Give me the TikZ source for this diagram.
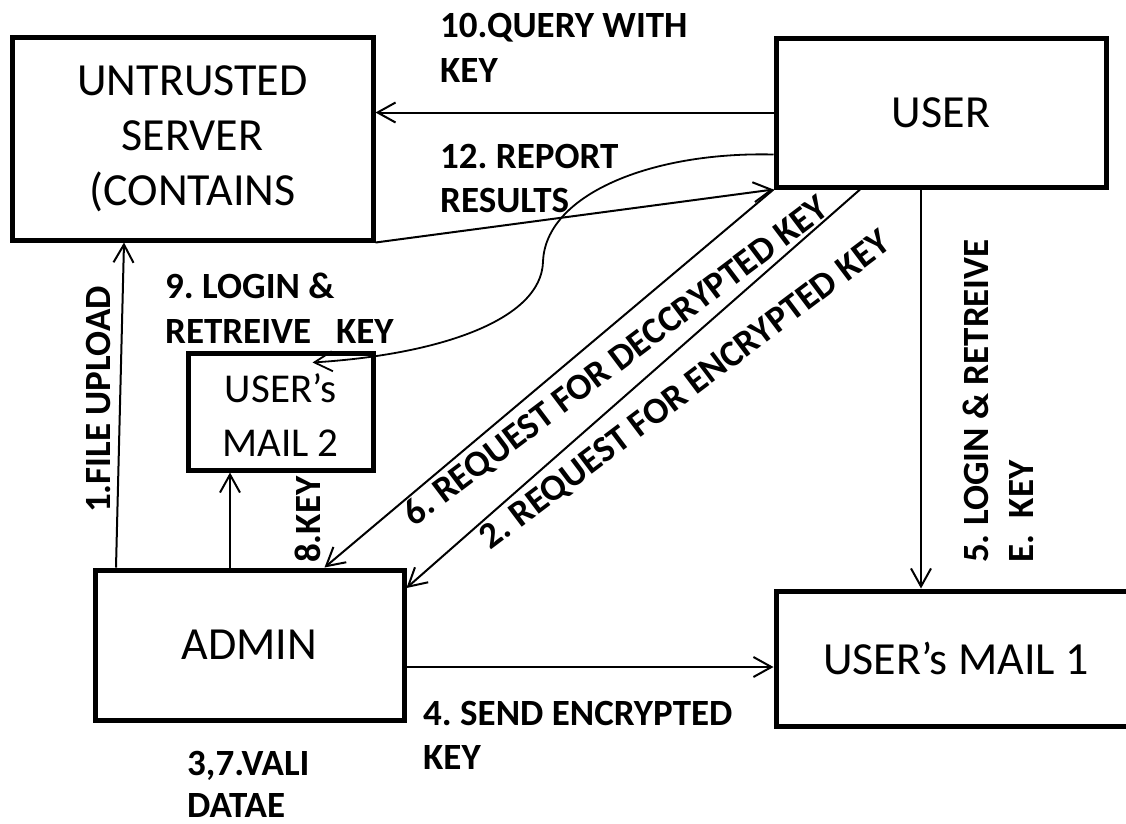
\documentclass[tikz,border=0pt]{standalone}
\usepackage{fontspec}
\setmainfont{Carlito}
\usetikzlibrary{arrows.meta,calc}
\frenchspacing
\begin{document}
\begin{tikzpicture}[x=1pt,y=-1pt,
  box/.style={draw, line width=5pt, inner sep=0pt, align=center,
    font=\fontsize{46}{55}\selectfont},
  flow/.style={line width=2pt, -{Straight Barb[length=18pt,width=20pt]}},
  lbl/.style={inner sep=0pt, anchor=base west,
    font=\bfseries\fontsize{37}{44}\selectfont},
]
\useasboundingbox (0,0) rectangle (1126,823);

% entities
\node[box, minimum width=361pt, minimum height=203pt] (server) at (192.5,138.5)
  {UNTRUSTED\\SERVER\\(CONTAINS};
\node[box, minimum width=330pt, minimum height=149pt] (user) at (941,112.5) {USER};
\node[box, minimum width=185pt, minimum height=117pt,
  font=\fontsize{41}{54}\selectfont] (mail2) at (280.5,411.5)
  {\rule{0pt}{36pt}USER’s\\MAIL 2};
\node[box, minimum width=309pt, minimum height=150pt] (admin) at (249.5,645) {ADMIN};
\node[box, minimum width=360pt, minimum height=135pt] (mail1) at (956,658.5) {USER’s MAIL 1};

% helper points on the boxes
\coordinate (u9) at ($(user.west)+(0,42)$);
\coordinate (c9) at (543,262);
\coordinate (m9) at ($(mail2.north)+(32,12)$);
\coordinate (a6) at ($(admin.north)+(75,0)$);
\coordinate (u2) at ($(user.south)+(-81,0)$);
\coordinate (a2) at ($(admin.east)+(0,-57)$);
\coordinate (u5) at ($(user.south)+(-20,0)$);
\coordinate (a1) at ($(admin.north west)+(23.5,0)$);
\coordinate (s1) at ($(server.south west)+(114.5,0)$);
\coordinate (a8) at ($(admin.north)+(-19.5,0)$);
\coordinate (a4) at ($(admin.east)+(0,22)$);

% flows
\draw[flow] (user.west) -- (user.west -| server.east);
\draw[flow] (server.south east) -- (user.south west);
\draw[flow, line width=1.8pt] (u9) .. controls +(-123,-3) and +(2,-67) .. (c9)
  .. controls +(-2,58) and +(127,-8) .. (m9);
\draw[flow] (user.south west) -- (a6);
\draw[flow] (u2) -- (a2);
\draw[flow] (u5) -- (u5 |- mail1.north);
\draw[flow] (a1) -- (s1);
\draw[flow] (a8) -- (a8 |- mail2.south);
\draw[flow] (a4) -- (a4 -| mail1.west);

% flow labels
\node[lbl] (q10a) at (440,37) {10.QUERY WITH};
\node[lbl] (q10b) at (440,82) {KEY};
\node[lbl] (r12a) at (440,168) {12. REPORT};
\node[lbl] (r12b) at (440,212) {RESULTS};
\node[lbl] (l9a) at (165,298) {9. LOGIN \&};
\node[lbl] (l9b) at (165,343) {RETREIVE\ \ \ KEY};
\node[lbl, rotate=90] (up1) at (110,513) {1.FILE UPLOAD};
\node[lbl, rotate=90] (k8) at (320,563) {8.KEY};
\node[lbl, rotate=90] (l5a) at (988,563) {5. LOGIN \& RETREIVE};
\node[lbl, rotate=90] (l5b) at (1033,563) {E.\ \ KEY};
\node[lbl] (s4a) at (423,725) {4. SEND ENCRYPTED};
\node[lbl] (s4b) at (423,769) {KEY};
\node[lbl] (v37a) at (187,775) {3,7.VALI};
\node[lbl] (v37b) at (187,817) {DATAE};
\node[lbl, anchor=base, rotate=37] (rq6) at (623,370) {6. REQUEST FOR DECCRYPTED KEY};
\node[lbl, anchor=base, rotate=37] (rq2) at (692,399) {2. REQUEST FOR ENCRYPTED KEY};
\end{tikzpicture}
\end{document}
